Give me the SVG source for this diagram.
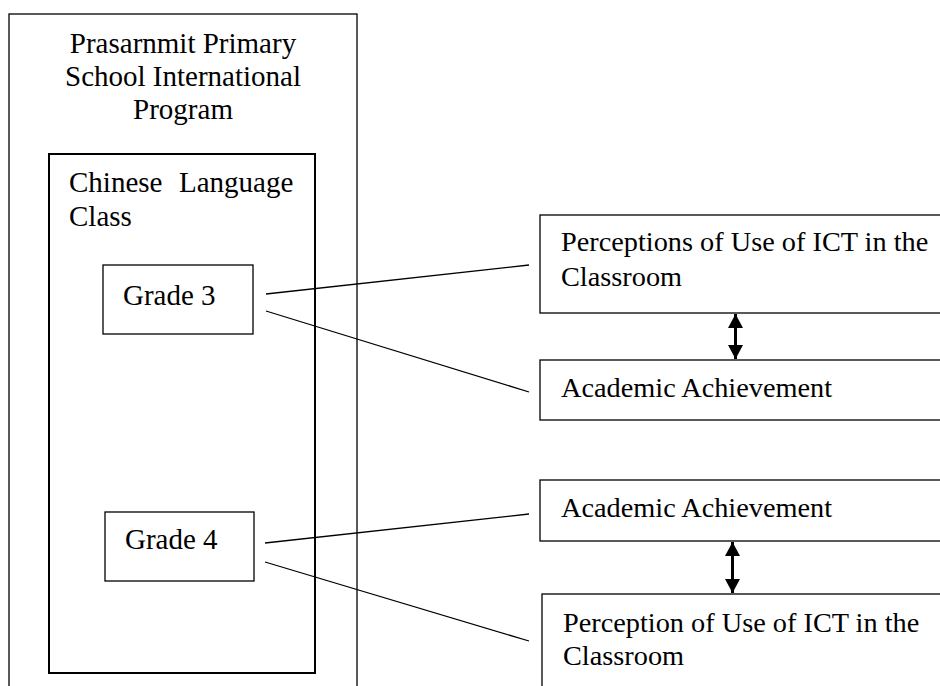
<svg xmlns="http://www.w3.org/2000/svg" width="940" height="686" viewBox="0 0 940 686">
<style>
  text { font-family: "Liberation Serif", "Times New Roman", serif; font-size: 29px; fill: #000; }
  .r { font-size: 28.3px; }
  .box { fill: none; stroke: #000; stroke-width: 1.3; }
  .inner { fill: none; stroke: #000; stroke-width: 2; }
  .conn { fill: none; stroke: #000; stroke-width: 1.3; }
  .dbl { fill: none; stroke: #000; stroke-width: 3; }
</style>
<defs>
  <marker id="head" viewBox="0 0 14 15" refX="14" refY="7.5" markerWidth="14" markerHeight="15" markerUnits="userSpaceOnUse" orient="auto-start-reverse">
    <path d="M0,0 L14,7.5 L0,15 z" fill="#000"/>
  </marker>
</defs>
<rect width="940" height="686" fill="#fff"/>

<g id="school">
  <rect class="box" x="9" y="14" width="348" height="700"/>
  <text x="183" y="53" text-anchor="middle">Prasarnmit Primary</text>
  <text x="183" y="86" text-anchor="middle">School International</text>
  <text x="183" y="119" text-anchor="middle">Program</text>
</g>

<g id="chinese-class">
  <rect class="inner" x="49" y="154" width="266" height="519"/>
  <text y="192"><tspan x="69">Chinese</tspan><tspan x="179">Language</tspan></text>
  <text x="69" y="226">Class</text>
</g>

<g id="grade3">
  <rect class="box" x="103" y="265" width="150" height="69"/>
  <text x="123" y="305">Grade 3</text>
</g>

<g id="grade4">
  <rect class="box" x="105" y="512" width="149" height="69"/>
  <text x="125" y="549">Grade 4</text>
</g>

<g id="g3-perceptions">
  <rect class="box" x="540" y="215" width="420" height="98"/>
  <text class="r" x="561" y="251">Perceptions of Use of ICT in the</text>
  <text class="r" x="561" y="286">Classroom</text>
</g>

<g id="g3-achievement">
  <rect class="box" x="540" y="360" width="420" height="60"/>
  <text class="r" x="561" y="397">Academic Achievement</text>
</g>

<g id="g4-achievement">
  <rect class="box" x="540" y="480" width="420" height="61"/>
  <text class="r" x="561" y="517">Academic Achievement</text>
</g>

<g id="g4-perception">
  <rect class="box" x="542" y="594" width="420" height="120"/>
  <text class="r" x="563" y="632">Perception of Use of ICT in the</text>
  <text class="r" x="563" y="665">Classroom</text>
</g>

<g id="connectors">
  <line class="conn" x1="266" y1="294" x2="529" y2="265"/>
  <line class="conn" x1="266" y1="311" x2="529" y2="392"/>
  <line class="conn" x1="265" y1="543" x2="529" y2="514"/>
  <line class="conn" x1="265" y1="562" x2="529" y2="641"/>
  <line class="dbl" x1="735.5" y1="314" x2="735.5" y2="359" marker-start="url(#head)" marker-end="url(#head)"/>
  <line class="dbl" x1="732.5" y1="542" x2="732.5" y2="593" marker-start="url(#head)" marker-end="url(#head)"/>
</g>
</svg>
